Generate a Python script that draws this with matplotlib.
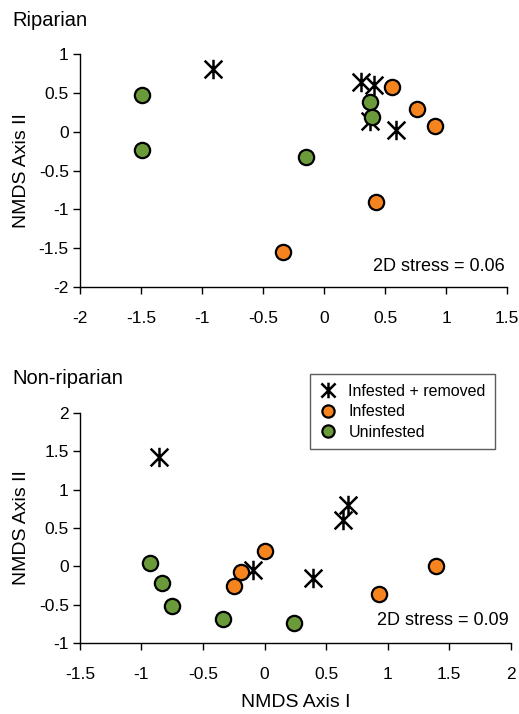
import matplotlib.pyplot as plt
from matplotlib.path import Path

plt.rcParams['font.family'] = ['Liberation Sans', 'DejaVu Sans']

# riparian sites
rip_rem_x = [-0.91, 0.30, 0.41, 0.38, 0.59]
rip_rem_y = [0.81, 0.64, 0.60, 0.14, 0.03]
rip_inf_x = [0.56, 0.76, 0.91, 0.43, -0.34]
rip_inf_y = [0.58, 0.30, 0.07, -0.91, -1.55]
rip_uni_x = [-1.49, -1.49, -0.15, 0.38, 0.39]
rip_uni_y = [0.48, -0.23, -0.33, 0.38, 0.19]

# non-riparian sites
non_rem_x = [-0.86, 0.68, 0.64, -0.09, 0.39]
non_rem_y = [1.42, 0.80, 0.60, -0.04, -0.15]
non_inf_x = [0.00, -0.19, -0.25, 0.93, 1.39]
non_inf_y = [0.20, -0.07, -0.25, -0.36, 0.01]
non_uni_x = [-0.93, -0.83, -0.75, -0.34, 0.24]
non_uni_y = [0.04, -0.21, -0.51, -0.69, -0.73]

orange = '#F5841F'
green = '#6B9A3A'

# X with a vertical bar, like the Excel star marker
star = Path([(-1, -1), (1, 1), (-1, 1), (1, -1), (0, -1.1), (0, 1.1)],
            [Path.MOVETO, Path.LINETO, Path.MOVETO, Path.LINETO, Path.MOVETO, Path.LINETO])

fig = plt.figure(figsize=(5.19, 7.14), dpi=100)
ax1 = fig.add_axes([0.154, 0.598, 0.823, 0.326])
ax2 = fig.add_axes([0.154, 0.099, 0.830, 0.323])


def draw(ax, rx, ry, ix, iy, ux, uy):
    h1, = ax.plot(rx, ry, ls='none', marker=star, ms=14, mew=1.8, color='black',
                  label='Infested + removed')
    h2, = ax.plot(ix, iy, ls='none', marker='o', ms=11, mfc=orange, mec='black', mew=1.6,
                  label='Infested')
    h3, = ax.plot(ux, uy, ls='none', marker='o', ms=11, mfc=green, mec='black', mew=1.6,
                  label='Uninfested')
    for s in ['top', 'right']:
        ax.spines[s].set_visible(False)
    for s in ['left', 'bottom']:
        ax.spines[s].set_linewidth(1)
    ax.tick_params(direction='out', length=5, width=1, labelsize=12.5)
    ax.tick_params(axis='x', pad=12)
    ax.tick_params(axis='y', pad=3)
    ax.set_ylabel('NMDS Axis II', fontsize=14, labelpad=6)
    return [h1, h2, h3]


draw(ax1, rip_rem_x, rip_rem_y, rip_inf_x, rip_inf_y, rip_uni_x, rip_uni_y)
ax1.set_xlim(-2, 1.5)
ax1.set_ylim(-2, 1)
ax1.set_xticks([-2, -1.5, -1, -0.5, 0, 0.5, 1, 1.5])
ax1.set_xticklabels(['-2', '-1.5', '-1', '-0.5', '0', '0.5', '1', '1.5'])
ax1.set_yticks([-2, -1.5, -1, -0.5, 0, 0.5, 1])
ax1.set_yticklabels(['-2', '-1.5', '-1', '-0.5', '0', '0.5', '1'])
ax1.text(0.995, 0.09, '2D stress = 0.06', transform=ax1.transAxes, ha='right', va='center', fontsize=13)

handles = draw(ax2, non_rem_x, non_rem_y, non_inf_x, non_inf_y, non_uni_x, non_uni_y)
ax2.set_xlim(-1.5, 2)
ax2.set_ylim(-1, 2)
ax2.set_xticks([-1.5, -1, -0.5, 0, 0.5, 1, 1.5, 2])
ax2.set_xticklabels(['-1.5', '-1', '-0.5', '0', '0.5', '1', '1.5', '2'])
ax2.set_yticks([-1, -0.5, 0, 0.5, 1, 1.5, 2])
ax2.set_yticklabels(['-1', '-0.5', '0', '0.5', '1', '1.5', '2'])
ax2.set_xlabel('NMDS Axis I', fontsize=14, labelpad=9)
ax2.text(0.995, 0.10, '2D stress = 0.09', transform=ax2.transAxes, ha='right', va='center', fontsize=13)

leg = fig.legend(handles=handles, loc='upper left', bbox_to_anchor=(310 / 519, 1 - 374 / 714),
                 fontsize=11.5, frameon=True, fancybox=False, edgecolor='#333333',
                 markerscale=0.8, handlelength=1.0, handletextpad=0.8, borderpad=0.6,
                 labelspacing=0.35, borderaxespad=0)
leg.get_frame().set_linewidth(1)

fig.text(12 / 519, 1 - 21 / 714, 'Riparian', fontsize=14.5, va='center', ha='left')
fig.text(12 / 519, 1 - 379 / 714, 'Non-riparian', fontsize=14.5, va='center', ha='left')

fig.savefig('out.png', dpi=100)
